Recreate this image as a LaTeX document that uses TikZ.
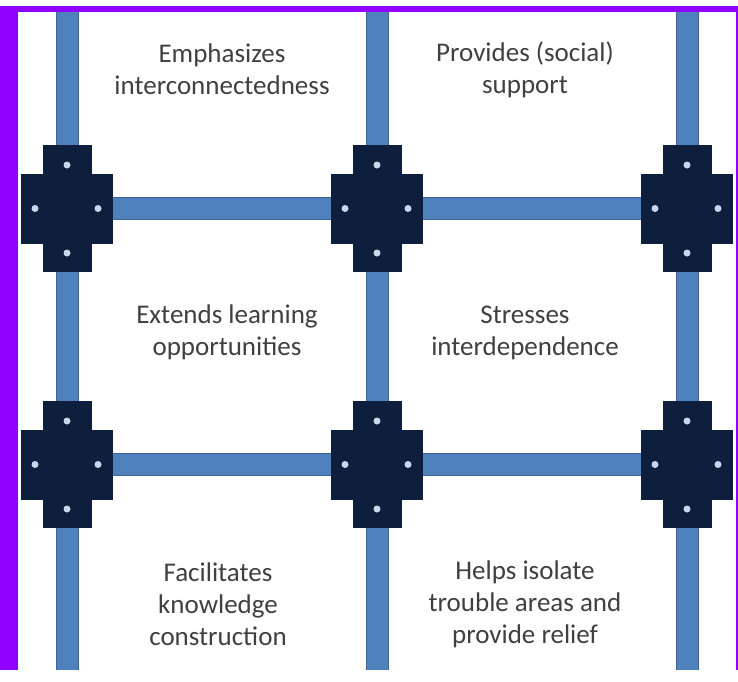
\documentclass[tikz,border=0pt]{standalone}
\usepackage{fontspec}
\setmainfont{Carlito}
\definecolor{framepurple}{HTML}{8F00FF}
\definecolor{navy}{HTML}{0D1F3C}
\definecolor{barblue}{HTML}{4F81BD}
\definecolor{baredge}{HTML}{3B6496}
\definecolor{studcolor}{HTML}{C8D8EC}
\definecolor{textgray}{HTML}{404040}
\begin{document}
\begin{tikzpicture}
[x=1pt, y=-1pt,
joint/.style={rectangle, fill=navy, inner sep=0pt, minimum width=49pt, minimum height=127pt,
  path picture={\fill[studcolor] ([yshift=-20pt]path picture bounding box.north) circle (3.5pt);
                \fill[studcolor] ([yshift=19pt]path picture bounding box.south) circle (3.5pt);}},
arm/.style={rectangle, fill=navy, inner sep=0pt, minimum width=92pt, minimum height=70pt,
  path picture={\fill[studcolor] ([xshift=14pt]path picture bounding box.west) circle (3.5pt);
                \fill[studcolor] ([xshift=-15pt]path picture bounding box.east) circle (3.5pt);}},
bar/.style={draw=baredge, line width=1pt, double=barblue, double distance=21pt},
cell/.style={align=center, text=textgray, font=\fontsize{27}{32}\selectfont}]
\fill[framepurple] (0,0) rectangle (738,664);
\fill[white] (18,6) rectangle (736,664);
\coordinate (top1) at (67,6);
\coordinate (top2) at (377,6);
\coordinate (top3) at (687,6);
\coordinate (bottom1) at (67,664);
\coordinate (bottom2) at (377,664);
\coordinate (bottom3) at (687,664);
\node[arm]	(arm1) at (67, 203) {};
\node[arm]	(arm2) at (377, 203) {};
\node[arm]	(arm3) at (687, 203) {};
\node[arm]	(arm4) at (67, 459) {};
\node[arm]	(arm5) at (377, 459) {};
\node[arm]	(arm6) at (687, 459) {};
\node[joint]	(joint1) at (67, 203) {};
\node[joint]	(joint2) at (377, 203) {};
\node[joint]	(joint3) at (687, 203) {};
\node[joint]	(joint4) at (67, 459) {};
\node[joint]	(joint5) at (377, 459) {};
\node[joint]	(joint6) at (687, 459) {};
\draw[bar] (top1) -- (joint1.north);
\draw[bar] (top2) -- (joint2.north);
\draw[bar] (top3) -- (joint3.north);
\draw[bar] (joint1.south) -- (joint4.north);
\draw[bar] (joint2.south) -- (joint5.north);
\draw[bar] (joint3.south) -- (joint6.north);
\draw[bar] (joint4.south) -- (bottom1);
\draw[bar] (joint5.south) -- (bottom2);
\draw[bar] (joint6.south) -- (bottom3);
\draw[bar] (arm1.east) -- (arm2.west);
\draw[bar] (arm2.east) -- (arm3.west);
\draw[bar] (arm4.east) -- (arm5.west);
\draw[bar] (arm5.east) -- (arm6.west);
\node[cell]	(cell1) at (222, 64) {Emphasizes\\interconnectedness};
\node[cell]	(cell2) at (525, 64) {Provides (social)\\support};
\node[cell]	(cell3) at (227, 327) {Extends learning\\opportunities};
\node[cell]	(cell4) at (525, 327) {Stresses\\interdependence};
\node[cell]	(cell5) at (218, 599) {Facilitates\\knowledge\\construction};
\node[cell]	(cell6) at (525, 599) {Helps isolate\\trouble areas and\\provide relief};
\end{tikzpicture}
\end{document}
